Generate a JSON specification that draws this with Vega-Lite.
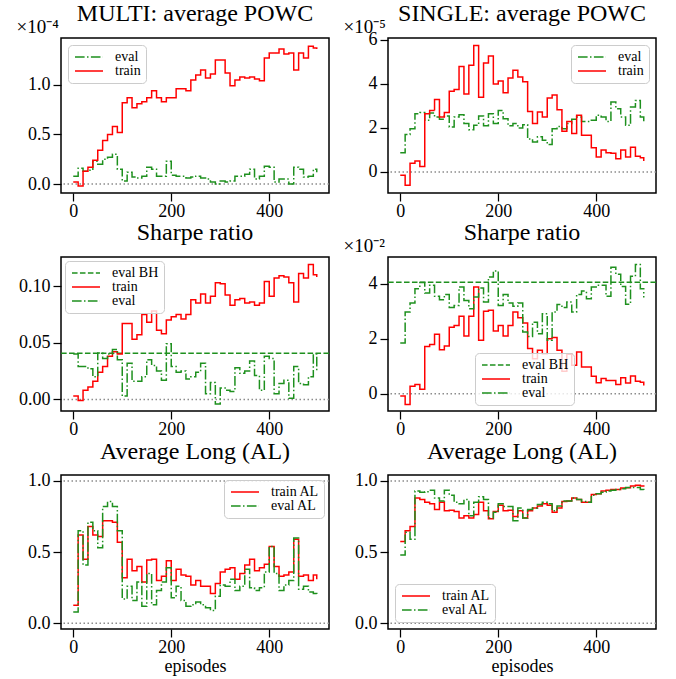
{
  "$schema": "https://vega.github.io/schema/vega-lite/v6.json",
  "background": "white",
  "padding": {"left": 15, "top": 0, "right": 5, "bottom": 5},
  "bounds": "flush",
  "columns": 2,
  "spacing": {"row": 64, "column": 59},
  "resolve": {
    "scale": {"x": "independent", "y": "independent", "color": "independent", "strokeDash": "independent"},
    "legend": {"color": "independent", "strokeDash": "independent"}
  },
  "config": {
    "view": {"stroke": "black", "strokeWidth": 1.5},
    "font": "Liberation Serif",
    "axis": {
      "domain": false, "grid": false, "tickColor": "black", "tickWidth": 1.25, "tickSize": 8,
      "labelFont": "Liberation Serif", "labelFontSize": 18, "labelColor": "black", "labelPadding": 3,
      "labelFlush": false, "labelOverlap": false,
      "titleFont": "Liberation Serif", "titleFontSize": 18, "titleFontWeight": "normal", "titleColor": "black", "titlePadding": 0
    },
    "axisX": {"titlePadding": 1, "labelPadding": 1.5},
    "axisY": {"titleAngle": 0, "titleX": -45, "titleY": -6, "titleAlign": "left", "titleBaseline": "alphabetic", "titleFontSize": 19},
    "title": {"font": "Liberation Serif", "fontSize": 24, "fontWeight": "normal", "color": "black", "anchor": "middle", "frame": "group", "offset": 15, "baseline": "alphabetic"},
    "legend": {
      "labelFont": "Liberation Serif", "labelFontSize": 14, "labelColor": "black",
      "symbolType": "M-1,0H4.6", "symbolSize": 100, "symbolStrokeWidth": 1.5, "labelOffset": 28,
      "padding": 5, "fillColor": "rgba(255,255,255,0.8)", "strokeColor": "#cccccc", "strokeWidth": 1, "cornerRadius": 4,
      "rowPadding": -2, "offset": 7
    }
  },
  "datasets": {
    "multi_powc": [
      {"episode":0,"train":0.02,"eval":0.08},{"episode":10,"train":-0.02,"eval":0.16},{"episode":20,"train":0.13,"eval":0.13},{"episode":30,"train":0.17,"eval":0.14},{"episode":40,"train":0.24,"eval":0.23},
      {"episode":50,"train":0.34,"eval":0.20},{"episode":60,"train":0.44,"eval":0.25},{"episode":70,"train":0.50,"eval":0.27},{"episode":80,"train":0.58,"eval":0.30},{"episode":90,"train":0.52,"eval":0.15},
      {"episode":100,"train":0.82,"eval":0.03},{"episode":110,"train":0.87,"eval":0.12},{"episode":120,"train":0.77,"eval":0.07},{"episode":130,"train":0.81,"eval":0.06},{"episode":140,"train":0.83,"eval":0.08},
      {"episode":150,"train":0.87,"eval":0.17},{"episode":160,"train":0.94,"eval":0.15},{"episode":170,"train":0.87,"eval":0.08},{"episode":180,"train":0.83,"eval":0.08},{"episode":190,"train":0.87,"eval":0.23},
      {"episode":200,"train":0.87,"eval":0.09},{"episode":210,"train":0.96,"eval":0.08},{"episode":220,"train":0.96,"eval":0.08},{"episode":230,"train":0.94,"eval":0.06},{"episode":240,"train":1.05,"eval":0.07},
      {"episode":250,"train":1.10,"eval":0.08},{"episode":260,"train":1.15,"eval":0.06},{"episode":270,"train":1.07,"eval":0.05},{"episode":280,"train":1.11,"eval":0.02},{"episode":290,"train":1.25,"eval":0.00},
      {"episode":300,"train":1.25,"eval":0.03},{"episode":310,"train":1.12,"eval":0.02},{"episode":320,"train":0.99,"eval":0.03},{"episode":330,"train":1.05,"eval":0.08},{"episode":340,"train":1.08,"eval":0.08},
      {"episode":350,"train":1.07,"eval":0.10},{"episode":360,"train":1.08,"eval":0.15},{"episode":370,"train":1.06,"eval":0.05},{"episode":380,"train":1.04,"eval":0.08},{"episode":390,"train":1.27,"eval":0.18},
      {"episode":400,"train":1.32,"eval":0.17},{"episode":410,"train":1.32,"eval":0.02},{"episode":420,"train":1.36,"eval":0.05},{"episode":430,"train":1.31,"eval":0.05},{"episode":440,"train":1.32,"eval":0.00},
      {"episode":450,"train":1.15,"eval":0.17},{"episode":460,"train":1.32,"eval":0.15},{"episode":470,"train":1.27,"eval":0.07},{"episode":480,"train":1.39,"eval":0.08},{"episode":490,"train":1.37,"eval":0.15},
      {"episode":497,"train":1.36,"eval":0.12}
    ],
    "single_powc": [
      {"episode":0,"train":-0.15,"eval":0.87},{"episode":10,"train":-0.6,"eval":1.7},{"episode":20,"train":0.4,"eval":1.97},{"episode":30,"train":0.5,"eval":2.65},{"episode":40,"train":0.25,"eval":2.7},
      {"episode":50,"train":2.65,"eval":2.35},{"episode":60,"train":2.8,"eval":2.68},{"episode":70,"train":3.3,"eval":2.5},{"episode":80,"train":2.5,"eval":2.4},{"episode":90,"train":2.7,"eval":2.55},
      {"episode":100,"train":3.67,"eval":2.05},{"episode":110,"train":3.75,"eval":2.5},{"episode":120,"train":4.8,"eval":2.6},{"episode":130,"train":3.55,"eval":2.2},{"episode":140,"train":4.85,"eval":1.92},
      {"episode":150,"train":5.75,"eval":2.12},{"episode":160,"train":3.4,"eval":2.55},{"episode":170,"train":4.95,"eval":2.1},{"episode":180,"train":5.27,"eval":2.65},{"episode":190,"train":4.0,"eval":2.2},
      {"episode":200,"train":4.13,"eval":2.8},{"episode":210,"train":3.6,"eval":2.42},{"episode":220,"train":4.27,"eval":2.1},{"episode":230,"train":4.62,"eval":2.2},{"episode":240,"train":4.32,"eval":2.0},
      {"episode":250,"train":4.1,"eval":2.15},{"episode":260,"train":2.75,"eval":1.5},{"episode":270,"train":2.2,"eval":1.36},{"episode":280,"train":2.73,"eval":1.6},{"episode":290,"train":2.5,"eval":1.44},
      {"episode":300,"train":3.36,"eval":1.25},{"episode":310,"train":3.5,"eval":1.97},{"episode":320,"train":2.83,"eval":2.07},{"episode":330,"train":1.85,"eval":1.97},{"episode":340,"train":2.3,"eval":2.2},
      {"episode":350,"train":1.75,"eval":2.4},{"episode":360,"train":2.58,"eval":2.5},{"episode":370,"train":1.67,"eval":2.3},{"episode":380,"train":1.67,"eval":2.3},{"episode":390,"train":1.1,"eval":2.35},
      {"episode":400,"train":0.68,"eval":2.58},{"episode":410,"train":1.0,"eval":2.5},{"episode":420,"train":0.87,"eval":2.3},{"episode":430,"train":0.85,"eval":3.18},{"episode":440,"train":0.6,"eval":2.88},
      {"episode":450,"train":1.0,"eval":2.5},{"episode":460,"train":0.68,"eval":2.12},{"episode":470,"train":1.13,"eval":2.95},{"episode":480,"train":0.72,"eval":3.25},{"episode":490,"train":0.65,"eval":2.5},
      {"episode":497,"train":0.5,"eval":2.3}
    ],
    "multi_sharpe": [
      {"episode":0,"train":0.003,"eval":0.040},{"episode":10,"train":-0.001,"eval":0.029},{"episode":20,"train":0.008,"eval":0.029},{"episode":30,"train":0.011,"eval":0.027},{"episode":40,"train":0.016,"eval":0.020},
      {"episode":50,"train":0.024,"eval":0.041},{"episode":60,"train":0.029,"eval":0.036},{"episode":70,"train":0.038,"eval":0.040},{"episode":80,"train":0.042,"eval":0.044},{"episode":90,"train":0.040,"eval":0.035},
      {"episode":100,"train":0.067,"eval":0.003},{"episode":110,"train":0.067,"eval":0.032},{"episode":120,"train":0.053,"eval":0.016},{"episode":130,"train":0.057,"eval":0.016},{"episode":140,"train":0.075,"eval":0.020},
      {"episode":150,"train":0.068,"eval":0.035},{"episode":160,"train":0.078,"eval":0.030},{"episode":170,"train":0.061,"eval":0.025},{"episode":180,"train":0.058,"eval":0.017},{"episode":190,"train":0.070,"eval":0.049},
      {"episode":200,"train":0.073,"eval":0.029},{"episode":210,"train":0.075,"eval":0.024},{"episode":220,"train":0.071,"eval":0.025},{"episode":230,"train":0.075,"eval":0.018},{"episode":240,"train":0.088,"eval":0.020},
      {"episode":250,"train":0.085,"eval":0.024},{"episode":260,"train":0.093,"eval":0.032},{"episode":270,"train":0.085,"eval":0.005},{"episode":280,"train":0.091,"eval":0.015},{"episode":290,"train":0.103,"eval":-0.004},
      {"episode":300,"train":0.102,"eval":0.010},{"episode":310,"train":0.092,"eval":0.008},{"episode":320,"train":0.083,"eval":0.007},{"episode":330,"train":0.088,"eval":0.028},{"episode":340,"train":0.089,"eval":0.023},
      {"episode":350,"train":0.085,"eval":0.025},{"episode":360,"train":0.086,"eval":0.034},{"episode":370,"train":0.083,"eval":0.021},{"episode":380,"train":0.085,"eval":0.008},{"episode":390,"train":0.104,"eval":0.038},
      {"episode":400,"train":0.091,"eval":0.036},{"episode":410,"train":0.107,"eval":0.005},{"episode":420,"train":0.109,"eval":0.014},{"episode":430,"train":0.108,"eval":0.017},{"episode":440,"train":0.103,"eval":0.001},
      {"episode":450,"train":0.086,"eval":0.029},{"episode":460,"train":0.111,"eval":0.014},{"episode":470,"train":0.107,"eval":0.013},{"episode":480,"train":0.119,"eval":0.020},{"episode":490,"train":0.110,"eval":0.040},
      {"episode":497,"train":0.108,"eval":0.024}
    ],
    "multi_sharpe_bh": [{"series": "eval BH", "value": 0.0408}],
    "single_sharpe": [
      {"episode":0,"train":-0.08,"eval":1.84},{"episode":10,"train":-0.39,"eval":2.97},{"episode":20,"train":0.27,"eval":3.3},{"episode":30,"train":0.33,"eval":3.82},{"episode":40,"train":0.16,"eval":4.04},
      {"episode":50,"train":1.72,"eval":3.66},{"episode":60,"train":1.79,"eval":3.94},{"episode":70,"train":2.16,"eval":3.54},{"episode":80,"train":1.6,"eval":3.42},{"episode":90,"train":1.73,"eval":3.61},
      {"episode":100,"train":2.42,"eval":3.13},{"episode":110,"train":2.48,"eval":3.21},{"episode":120,"train":2.82,"eval":3.88},{"episode":130,"train":2.1,"eval":3.39},{"episode":140,"train":2.82,"eval":3.09},
      {"episode":150,"train":3.88,"eval":3.52},{"episode":160,"train":1.94,"eval":3.84},{"episode":170,"train":3.0,"eval":3.33},{"episode":180,"train":3.03,"eval":4.24},{"episode":190,"train":2.28,"eval":4.46},
      {"episode":200,"train":2.48,"eval":3.21},{"episode":210,"train":2.1,"eval":3.61},{"episode":220,"train":2.48,"eval":3.3},{"episode":230,"train":2.97,"eval":3.18},{"episode":240,"train":2.76,"eval":3.3},
      {"episode":250,"train":2.57,"eval":2.24},{"episode":260,"train":1.64,"eval":2.08},{"episode":270,"train":1.27,"eval":2.6},{"episode":280,"train":1.58,"eval":2.18},{"episode":290,"train":1.45,"eval":2.91},
      {"episode":300,"train":2.0,"eval":1.94},{"episode":310,"train":2.04,"eval":2.97},{"episode":320,"train":1.58,"eval":3.24},{"episode":330,"train":0.82,"eval":3.13},{"episode":340,"train":1.43,"eval":3.33},
      {"episode":350,"train":1.03,"eval":2.97},{"episode":360,"train":1.52,"eval":3.61},{"episode":370,"train":0.97,"eval":3.73},{"episode":380,"train":0.97,"eval":3.45},{"episode":390,"train":0.63,"eval":3.88},
      {"episode":400,"train":0.4,"eval":3.94},{"episode":410,"train":0.55,"eval":3.94},{"episode":420,"train":0.48,"eval":3.54},{"episode":430,"train":0.48,"eval":4.6},{"episode":440,"train":0.33,"eval":4.34},
      {"episode":450,"train":0.58,"eval":3.9},{"episode":460,"train":0.39,"eval":3.25},{"episode":470,"train":0.64,"eval":4.27},{"episode":480,"train":0.45,"eval":4.7},{"episode":490,"train":0.42,"eval":3.82},
      {"episode":497,"train":0.3,"eval":3.5}
    ],
    "single_sharpe_bh": [{"series": "eval BH", "value": 4.05}],
    "multi_al": [
      {"episode":0,"train AL":0.126,"eval AL":0.08},{"episode":10,"train AL":0.62,"eval AL":0.65},{"episode":20,"train AL":0.45,"eval AL":0.41},{"episode":30,"train AL":0.68,"eval AL":0.71},{"episode":40,"train AL":0.62,"eval AL":0.65},
      {"episode":50,"train AL":0.61,"eval AL":0.53},{"episode":60,"train AL":0.72,"eval AL":0.82},{"episode":70,"train AL":0.72,"eval AL":0.855},{"episode":80,"train AL":0.71,"eval AL":0.82},{"episode":90,"train AL":0.57,"eval AL":0.65},
      {"episode":100,"train AL":0.32,"eval AL":0.17},{"episode":110,"train AL":0.45,"eval AL":0.26},{"episode":120,"train AL":0.37,"eval AL":0.16},{"episode":130,"train AL":0.40,"eval AL":0.29},{"episode":140,"train AL":0.29,"eval AL":0.12},
      {"episode":150,"train AL":0.445,"eval AL":0.35},{"episode":160,"train AL":0.45,"eval AL":0.13},{"episode":170,"train AL":0.30,"eval AL":0.23},{"episode":180,"train AL":0.33,"eval AL":0.29},{"episode":190,"train AL":0.44,"eval AL":0.39},
      {"episode":200,"train AL":0.30,"eval AL":0.18},{"episode":210,"train AL":0.38,"eval AL":0.26},{"episode":220,"train AL":0.34,"eval AL":0.16},{"episode":230,"train AL":0.33,"eval AL":0.12},{"episode":240,"train AL":0.27,"eval AL":0.13},
      {"episode":250,"train AL":0.30,"eval AL":0.15},{"episode":260,"train AL":0.26,"eval AL":0.13},{"episode":270,"train AL":0.26,"eval AL":0.11},{"episode":280,"train AL":0.21,"eval AL":0.09},{"episode":290,"train AL":0.28,"eval AL":0.19},
      {"episode":300,"train AL":0.36,"eval AL":0.27},{"episode":310,"train AL":0.38,"eval AL":0.26},{"episode":320,"train AL":0.39,"eval AL":0.31},{"episode":330,"train AL":0.31,"eval AL":0.23},{"episode":340,"train AL":0.35,"eval AL":0.26},
      {"episode":350,"train AL":0.41,"eval AL":0.38},{"episode":360,"train AL":0.45,"eval AL":0.25},{"episode":370,"train AL":0.37,"eval AL":0.23},{"episode":380,"train AL":0.39,"eval AL":0.25},{"episode":390,"train AL":0.415,"eval AL":0.36},
      {"episode":400,"train AL":0.54,"eval AL":0.54},{"episode":410,"train AL":0.40,"eval AL":0.35},{"episode":420,"train AL":0.33,"eval AL":0.23},{"episode":430,"train AL":0.34,"eval AL":0.27},{"episode":440,"train AL":0.36,"eval AL":0.30},
      {"episode":450,"train AL":0.59,"eval AL":0.60},{"episode":460,"train AL":0.33,"eval AL":0.24},{"episode":470,"train AL":0.34,"eval AL":0.26},{"episode":480,"train AL":0.30,"eval AL":0.22},{"episode":490,"train AL":0.34,"eval AL":0.21},
      {"episode":497,"train AL":0.31,"eval AL":0.20}
    ],
    "single_al": [
      {"episode":0,"train AL":0.574,"eval AL":0.48},{"episode":10,"train AL":0.65,"eval AL":0.64},{"episode":20,"train AL":0.68,"eval AL":0.59},{"episode":30,"train AL":0.88,"eval AL":0.93},{"episode":40,"train AL":0.87,"eval AL":0.92},
      {"episode":50,"train AL":0.85,"eval AL":0.925},{"episode":60,"train AL":0.84,"eval AL":0.935},{"episode":70,"train AL":0.80,"eval AL":0.88},{"episode":80,"train AL":0.85,"eval AL":0.86},{"episode":90,"train AL":0.79,"eval AL":0.935},
      {"episode":100,"train AL":0.795,"eval AL":0.90},{"episode":110,"train AL":0.785,"eval AL":0.85},{"episode":120,"train AL":0.74,"eval AL":0.84},{"episode":130,"train AL":0.755,"eval AL":0.87},{"episode":140,"train AL":0.74,"eval AL":0.755},
      {"episode":150,"train AL":0.765,"eval AL":0.85},{"episode":160,"train AL":0.85,"eval AL":0.89},{"episode":170,"train AL":0.79,"eval AL":0.87},{"episode":180,"train AL":0.735,"eval AL":0.74},{"episode":190,"train AL":0.785,"eval AL":0.78},
      {"episode":200,"train AL":0.83,"eval AL":0.84},{"episode":210,"train AL":0.79,"eval AL":0.82},{"episode":220,"train AL":0.795,"eval AL":0.82},{"episode":230,"train AL":0.75,"eval AL":0.72},{"episode":240,"train AL":0.79,"eval AL":0.81},
      {"episode":250,"train AL":0.74,"eval AL":0.74},{"episode":260,"train AL":0.79,"eval AL":0.80},{"episode":270,"train AL":0.81,"eval AL":0.81},{"episode":280,"train AL":0.825,"eval AL":0.835},{"episode":290,"train AL":0.84,"eval AL":0.85},
      {"episode":300,"train AL":0.83,"eval AL":0.84},{"episode":310,"train AL":0.78,"eval AL":0.79},{"episode":320,"train AL":0.81,"eval AL":0.825},{"episode":330,"train AL":0.855,"eval AL":0.86},{"episode":340,"train AL":0.86,"eval AL":0.86},
      {"episode":350,"train AL":0.88,"eval AL":0.88},{"episode":360,"train AL":0.87,"eval AL":0.87},{"episode":370,"train AL":0.85,"eval AL":0.855},{"episode":380,"train AL":0.85,"eval AL":0.85},{"episode":390,"train AL":0.905,"eval AL":0.90},
      {"episode":400,"train AL":0.91,"eval AL":0.91},{"episode":410,"train AL":0.93,"eval AL":0.92},{"episode":420,"train AL":0.935,"eval AL":0.93},{"episode":430,"train AL":0.94,"eval AL":0.935},{"episode":440,"train AL":0.94,"eval AL":0.94},
      {"episode":450,"train AL":0.95,"eval AL":0.945},{"episode":460,"train AL":0.953,"eval AL":0.955},{"episode":470,"train AL":0.965,"eval AL":0.955},{"episode":480,"train AL":0.97,"eval AL":0.955},{"episode":490,"train AL":0.965,"eval AL":0.94},
      {"episode":497,"train AL":0.96,"eval AL":0.93}
    ],
    "ref0": [{"value": 0}],
    "ref01": [{"value": 0}, {"value": 1}]
  },
  "concat": [
    {
      "width": 268, "height": 155,
      "title": {"text": "MULTI: average POWC", "dy": 23.5},
      "layer": [
        {
          "data": {"name": "ref0"},
          "mark": {"type": "rule", "color": "#8c8c8c", "strokeDash": [1.5, 2.5], "strokeWidth": 1.5},
          "encoding": {
            "y": {"field": "value", "type": "quantitative", "scale": {"domain": [-0.09, 1.472], "nice": false, "zero": false},
                  "axis": {"values": [0, 0.5, 1], "format": ".1f", "title": "×10⁻⁴"}}
          }
        },
        {
          "data": {"name": "multi_powc"},
          "transform": [{"fold": ["eval", "train"], "as": ["series", "value"]}],
          "mark": {"type": "line", "interpolate": "step-after", "strokeWidth": 1.5},
          "encoding": {
            "x": {"field": "episode", "type": "quantitative", "scale": {"domain": [-25, 522], "nice": false, "zero": false}, "axis": {"values": [0, 200, 400], "format": "d", "title": null}},
            "y": {"field": "value", "type": "quantitative", "scale": {"domain": [-0.09, 1.472], "nice": false, "zero": false},
                  "axis": {"values": [0, 0.5, 1], "format": ".1f", "title": "×10⁻⁴"}},
            "color": {"field": "series", "type": "nominal", "scale": {"domain": ["eval", "train"], "range": ["#1e901e", "#ff0000"]}, "legend": {"title": null, "orient": "top-left"}},
            "strokeDash": {"field": "series", "type": "nominal", "scale": {"domain": ["eval", "train"], "range": [[9.6, 2.4, 1.5, 2.4], [1, 0]]}, "legend": {"title": null, "orient": "top-left"}}
          }
        }
      ]
    },
    {
      "width": 268, "height": 155,
      "title": {"text": "SINGLE: average POWC", "dy": 23.5},
      "layer": [
        {
          "data": {"name": "ref0"},
          "mark": {"type": "rule", "color": "#8c8c8c", "strokeDash": [1.5, 2.5], "strokeWidth": 1.5},
          "encoding": {
            "y": {"field": "value", "type": "quantitative", "scale": {"domain": [-0.955, 6.09], "nice": false, "zero": false},
                  "axis": {"values": [0, 2, 4, 6], "format": "d", "title": "×10⁻⁵"}}
          }
        },
        {
          "data": {"name": "single_powc"},
          "transform": [{"fold": ["eval", "train"], "as": ["series", "value"]}],
          "mark": {"type": "line", "interpolate": "step-after", "strokeWidth": 1.5},
          "encoding": {
            "x": {"field": "episode", "type": "quantitative", "scale": {"domain": [-25, 522], "nice": false, "zero": false}, "axis": {"values": [0, 200, 400], "format": "d", "title": null}},
            "y": {"field": "value", "type": "quantitative", "scale": {"domain": [-0.955, 6.09], "nice": false, "zero": false},
                  "axis": {"values": [0, 2, 4, 6], "format": "d", "title": "×10⁻⁵"}},
            "color": {"field": "series", "type": "nominal", "scale": {"domain": ["eval", "train"], "range": ["#1e901e", "#ff0000"]}, "legend": {"title": null, "orient": "top-right"}},
            "strokeDash": {"field": "series", "type": "nominal", "scale": {"domain": ["eval", "train"], "range": [[9.6, 2.4, 1.5, 2.4], [1, 0]]}, "legend": {"title": null, "orient": "top-right"}}
          }
        }
      ]
    },
    {
      "width": 268, "height": 154,
      "title": {"text": "Sharpe ratio", "dy": 23.5},
      "layer": [
        {
          "data": {"name": "ref0"},
          "mark": {"type": "rule", "color": "#8c8c8c", "strokeDash": [1.5, 2.5], "strokeWidth": 1.5},
          "encoding": {
            "y": {"field": "value", "type": "quantitative", "scale": {"domain": [-0.0102, 0.1256], "nice": false, "zero": false},
                  "axis": {"values": [0, 0.05, 0.1], "format": ".2f", "title": "\u00a0"}}
          }
        },
        {
          "data": {"name": "multi_sharpe_bh"},
          "mark": {"type": "rule", "strokeWidth": 1.5},
          "encoding": {
            "y": {"field": "value", "type": "quantitative", "scale": {"domain": [-0.0102, 0.1256], "nice": false, "zero": false},
                  "axis": {"values": [0, 0.05, 0.1], "format": ".2f", "title": "\u00a0"}},
            "color": {"field": "series", "type": "nominal", "scale": {"domain": ["eval BH", "train", "eval"], "range": ["#1e901e", "#ff0000", "#1e901e"]}, "legend": {"title": null, "orient": "top-left", "offset": 4}},
            "strokeDash": {"field": "series", "type": "nominal", "scale": {"domain": ["eval BH", "train", "eval"], "range": [[5.55, 2.4], [1, 0], [9.6, 2.4, 1.5, 2.4]]}, "legend": {"title": null, "orient": "top-left", "offset": 4}}
          }
        },
        {
          "data": {"name": "multi_sharpe"},
          "transform": [{"fold": ["train", "eval"], "as": ["series", "value"]}],
          "mark": {"type": "line", "interpolate": "step-after", "strokeWidth": 1.5},
          "encoding": {
            "x": {"field": "episode", "type": "quantitative", "scale": {"domain": [-25, 522], "nice": false, "zero": false}, "axis": {"values": [0, 200, 400], "format": "d", "title": null}},
            "y": {"field": "value", "type": "quantitative", "scale": {"domain": [-0.0102, 0.1256], "nice": false, "zero": false},
                  "axis": {"values": [0, 0.05, 0.1], "format": ".2f", "title": "\u00a0"}},
            "color": {"field": "series", "type": "nominal", "scale": {"domain": ["eval BH", "train", "eval"], "range": ["#1e901e", "#ff0000", "#1e901e"]}, "legend": {"title": null, "orient": "top-left", "offset": 4}},
            "strokeDash": {"field": "series", "type": "nominal", "scale": {"domain": ["eval BH", "train", "eval"], "range": [[5.55, 2.4], [1, 0], [9.6, 2.4, 1.5, 2.4]]}, "legend": {"title": null, "orient": "top-left", "offset": 4}}
          }
        }
      ]
    },
    {
      "width": 268, "height": 154,
      "title": {"text": "Sharpe ratio", "dy": 23.5},
      "layer": [
        {
          "data": {"name": "ref0"},
          "mark": {"type": "rule", "color": "#8c8c8c", "strokeDash": [1.5, 2.5], "strokeWidth": 1.5},
          "encoding": {
            "y": {"field": "value", "type": "quantitative", "scale": {"domain": [-0.63, 4.97], "nice": false, "zero": false},
                  "axis": {"values": [0, 2, 4], "format": "d", "title": "×10⁻²"}}
          }
        },
        {
          "data": {"name": "single_sharpe_bh"},
          "mark": {"type": "rule", "strokeWidth": 1.5},
          "encoding": {
            "y": {"field": "value", "type": "quantitative", "scale": {"domain": [-0.63, 4.97], "nice": false, "zero": false},
                  "axis": {"values": [0, 2, 4], "format": "d", "title": "×10⁻²"}},
            "color": {"field": "series", "type": "nominal", "scale": {"domain": ["eval BH", "train", "eval"], "range": ["#1e901e", "#ff0000", "#1e901e"]}, "legend": {"title": null, "orient": "none", "legendX": 87, "legendY": 96}},
            "strokeDash": {"field": "series", "type": "nominal", "scale": {"domain": ["eval BH", "train", "eval"], "range": [[5.55, 2.4], [1, 0], [9.6, 2.4, 1.5, 2.4]]}, "legend": {"title": null, "orient": "none", "legendX": 87, "legendY": 96}}
          }
        },
        {
          "data": {"name": "single_sharpe"},
          "transform": [{"fold": ["train", "eval"], "as": ["series", "value"]}],
          "mark": {"type": "line", "interpolate": "step-after", "strokeWidth": 1.5},
          "encoding": {
            "x": {"field": "episode", "type": "quantitative", "scale": {"domain": [-25, 522], "nice": false, "zero": false}, "axis": {"values": [0, 200, 400], "format": "d", "title": null}},
            "y": {"field": "value", "type": "quantitative", "scale": {"domain": [-0.63, 4.97], "nice": false, "zero": false},
                  "axis": {"values": [0, 2, 4], "format": "d", "title": "×10⁻²"}},
            "color": {"field": "series", "type": "nominal", "scale": {"domain": ["eval BH", "train", "eval"], "range": ["#1e901e", "#ff0000", "#1e901e"]}, "legend": {"title": null, "orient": "none", "legendX": 87, "legendY": 96}},
            "strokeDash": {"field": "series", "type": "nominal", "scale": {"domain": ["eval BH", "train", "eval"], "range": [[5.55, 2.4], [1, 0], [9.6, 2.4, 1.5, 2.4]]}, "legend": {"title": null, "orient": "none", "legendX": 87, "legendY": 96}}
          }
        }
      ]
    },
    {
      "width": 268, "height": 154,
      "title": {"text": "Average Long (AL)", "dy": 24.5},
      "layer": [
        {
          "data": {"name": "ref01"},
          "mark": {"type": "rule", "color": "#8c8c8c", "strokeDash": [1.5, 2.5], "strokeWidth": 1.5},
          "encoding": {
            "y": {"field": "value", "type": "quantitative", "scale": {"domain": [-0.04, 1.042], "nice": false, "zero": false},
                  "axis": {"values": [0, 0.5, 1], "format": ".1f", "title": "\u00a0"}}
          }
        },
        {
          "data": {"name": "multi_al"},
          "transform": [{"fold": ["train AL", "eval AL"], "as": ["series", "value"]}],
          "mark": {"type": "line", "interpolate": "step-after", "strokeWidth": 1.5},
          "encoding": {
            "x": {"field": "episode", "type": "quantitative", "scale": {"domain": [-25, 522], "nice": false, "zero": false}, "axis": {"values": [0, 200, 400], "format": "d", "title": "episodes"}},
            "y": {"field": "value", "type": "quantitative", "scale": {"domain": [-0.04, 1.042], "nice": false, "zero": false},
                  "axis": {"values": [0, 0.5, 1], "format": ".1f", "title": "\u00a0"}},
            "color": {"field": "series", "type": "nominal", "scale": {"domain": ["train AL", "eval AL"], "range": ["#ff0000", "#1e901e"]}, "legend": {"title": null, "orient": "top-right", "offset": 5}},
            "strokeDash": {"field": "series", "type": "nominal", "scale": {"domain": ["train AL", "eval AL"], "range": [[1, 0], [9.6, 2.4, 1.5, 2.4]]}, "legend": {"title": null, "orient": "top-right", "offset": 5}}
          }
        }
      ]
    },
    {
      "width": 268, "height": 154,
      "title": {"text": "Average Long (AL)", "dy": 24.5},
      "layer": [
        {
          "data": {"name": "ref01"},
          "mark": {"type": "rule", "color": "#8c8c8c", "strokeDash": [1.5, 2.5], "strokeWidth": 1.5},
          "encoding": {
            "y": {"field": "value", "type": "quantitative", "scale": {"domain": [-0.04, 1.042], "nice": false, "zero": false},
                  "axis": {"values": [0, 0.5, 1], "format": ".1f", "title": "\u00a0"}}
          }
        },
        {
          "data": {"name": "single_al"},
          "transform": [{"fold": ["train AL", "eval AL"], "as": ["series", "value"]}],
          "mark": {"type": "line", "interpolate": "step-after", "strokeWidth": 1.5},
          "encoding": {
            "x": {"field": "episode", "type": "quantitative", "scale": {"domain": [-25, 522], "nice": false, "zero": false}, "axis": {"values": [0, 200, 400], "format": "d", "title": "episodes"}},
            "y": {"field": "value", "type": "quantitative", "scale": {"domain": [-0.04, 1.042], "nice": false, "zero": false},
                  "axis": {"values": [0, 0.5, 1], "format": ".1f", "title": "\u00a0"}},
            "color": {"field": "series", "type": "nominal", "scale": {"domain": ["train AL", "eval AL"], "range": ["#ff0000", "#1e901e"]}, "legend": {"title": null, "orient": "bottom-left"}},
            "strokeDash": {"field": "series", "type": "nominal", "scale": {"domain": ["train AL", "eval AL"], "range": [[1, 0], [9.6, 2.4, 1.5, 2.4]]}, "legend": {"title": null, "orient": "bottom-left"}}
          }
        }
      ]
    }
  ]
}
